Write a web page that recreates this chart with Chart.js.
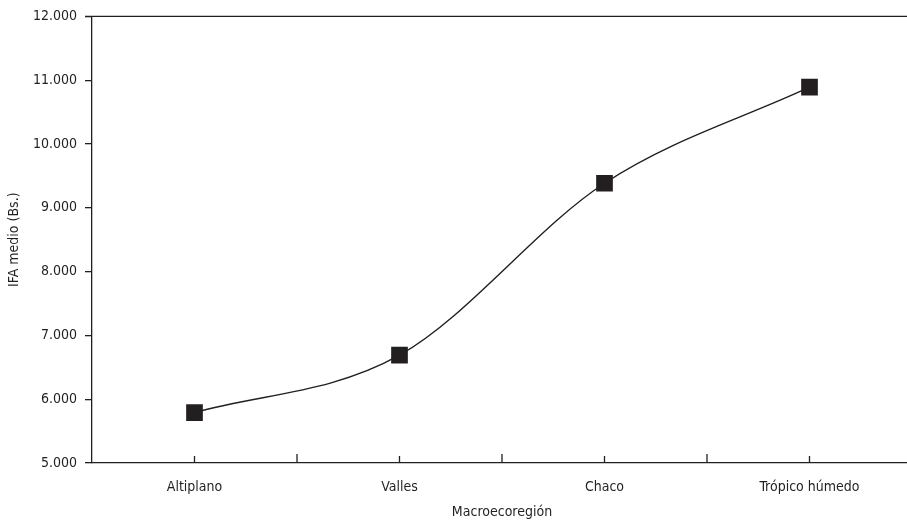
<!DOCTYPE html>
<html>
<head>
<meta charset="utf-8">
<script src="https://cdn.jsdelivr.net/npm/chart.js@4/dist/chart.umd.min.js"></script>
<style>
  html, body { margin: 0; padding: 0; background: #fff; overflow: hidden; }
  #wrap { width: 907px; height: 521px; overflow: hidden; }
  #box { position: relative; width: 912px; height: 521px; }
</style>
</head>
<body>
<div id="wrap"><div id="box"><canvas id="chart"></canvas></div></div>
<script>
const regions = ["Altiplano", "Valles", "Chaco", "Trópico húmedo"];
const ifaValues = [5790, 6690, 9385, 10890];
const yMin = 5000;
const yMax = 12000;
const yStep = 1000;

const ink = "#231f20";
const fontFamily = "'DejaVu Sans Condensed', 'Liberation Sans Narrow', 'Liberation Sans', Arial, sans-serif";

// ticks pointing up into the plot, plus the top border line
const innerTicks = {
  id: "innerTicks",
  afterDraw(chart) {
    const { ctx, chartArea, scales } = chart;
    const x = scales.x;
    ctx.save();
    ctx.strokeStyle = ink;
    ctx.lineWidth = 1.3;
    ctx.beginPath();
    regions.forEach((_, i) => {
      const px = x.getPixelForValue(i);
      ctx.moveTo(px, chartArea.bottom);
      ctx.lineTo(px, chartArea.bottom - 7);
      if (i > 0) {
        const mid = (x.getPixelForValue(i - 1) + px) / 2;
        ctx.moveTo(mid, chartArea.bottom);
        ctx.lineTo(mid, chartArea.bottom - 9);
      }
    });
    ctx.moveTo(chartArea.left - 7, chartArea.top);
    ctx.lineTo(chartArea.right, chartArea.top);
    ctx.stroke();
    ctx.restore();
  }
};

new Chart(document.getElementById("chart"), {
  type: "line",
  data: {
    labels: regions,
    datasets: [
      {
        label: "IFA medio",
        data: ifaValues,
        borderColor: ink,
        borderWidth: 1.4,
        backgroundColor: ink,
        pointStyle: "rect",
        pointRadius: 11.8,
        pointBorderWidth: 0,
        pointBackgroundColor: ink,
        cubicInterpolationMode: "monotone",
        fill: false
      }
    ]
  },
  options: {
    responsive: true,
    maintainAspectRatio: false,
    animation: false,
    layout: { autoPadding: false, padding: { top: 15, right: 0, bottom: 0, left: 0 } },
    plugins: {
      legend: { display: false },
      tooltip: { enabled: false }
    },
    scales: {
      x: {
        offset: true,
        border: { color: ink, width: 1.3 },
        grid: { display: false, drawOnChartArea: false },
        ticks: {
          color: ink,
          padding: 8,
          maxRotation: 0,
          font: { family: fontFamily, size: 14 }
        },
        title: {
          display: true,
          text: "Macroecoregión",
          color: ink,
          padding: { top: 6, bottom: 0 },
          font: { family: fontFamily, size: 14 }
        },
        afterFit(scale) {
          scale.height = 58;
          scale.paddingLeft = 0;
          scale.paddingRight = 0;
        }
      },
      y: {
        min: yMin,
        max: yMax,
        border: { color: ink, width: 1.3 },
        grid: {
          drawOnChartArea: false,
          drawTicks: true,
          tickLength: 7,
          color: ink,
          lineWidth: 1.3
        },
        ticks: {
          stepSize: yStep,
          color: ink,
          padding: 8,
          font: { family: fontFamily, size: 14 },
          callback: value => {
            const s = String(value);
            return s.slice(0, s.length - 3) + "." + s.slice(-3);
          }
        },
        title: {
          display: true,
          text: "IFA medio (Bs.)",
          color: ink,
          padding: { top: 6, bottom: 0 },
          font: { family: fontFamily, size: 14 }
        },
        afterFit(scale) { scale.width = 92; }
      }
    }
  },
  plugins: [innerTicks]
});
</script>
</body>
</html>
